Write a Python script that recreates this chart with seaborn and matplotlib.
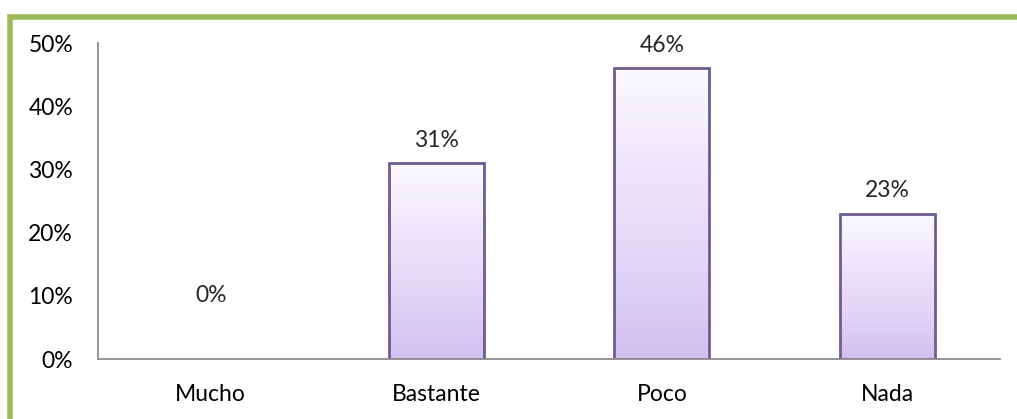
import numpy as np
import pandas as pd
import matplotlib
matplotlib.use('Agg')
import matplotlib.pyplot as plt
import seaborn as sns
from matplotlib.colors import LinearSegmentedColormap
from matplotlib.patches import Rectangle

# Datos
categorias = ['Mucho', 'Bastante', 'Poco', 'Nada']
porcentajes = [0, 31, 46, 23]
etiquetas_y = ['0%', '10%', '20%', '30%', '40%', '50%']

df = pd.DataFrame({'Respuesta': categorias, 'Porcentaje': porcentajes})

sns.set_style('white')
plt.rcParams['font.family'] = ['Lato', 'DejaVu Sans']

fig = plt.figure(figsize=(10.17, 4.19), dpi=100)
ax = fig.add_axes([0.0964, 0.143, 0.887, 0.754])

sns.barplot(data=df, x='Respuesta', y='Porcentaje', ax=ax, width=0.42,
            color='#E2D8F6', edgecolor='#6E5C90', linewidth=2.0)

# degradado dentro de cada barra
cmap = LinearSegmentedColormap.from_list('lav', ['#FCFAFF', '#EEE6FB', '#E2D6F7', '#D0C1EF'])
grad = np.linspace(0, 1, 256).reshape(-1, 1)
for p in ax.patches:
    x0, w, h = p.get_x(), p.get_width(), p.get_height()
    if h <= 0:
        p.set_visible(False)
        continue
    im = ax.imshow(grad, cmap=cmap, aspect='auto', extent=[x0, x0 + w, 0, h],
                   origin='upper', zorder=p.get_zorder() - 0.1)
    im.set_clip_path(p)
    p.set_facecolor('none')

ax.set_xlim(-0.5, 3.5)
ax.set_ylim(0, 50)
ax.set_yticks(range(0, 51, 10))
ax.set_yticklabels(etiquetas_y)
ax.set_xlabel('')
ax.set_ylabel('')
ax.tick_params(axis='both', length=0, labelsize=16.5, colors='#000000')
ax.tick_params(axis='y', pad=18)
ax.tick_params(axis='x', pad=18)

for s in ['top', 'right']:
    ax.spines[s].set_visible(False)
for s in ['left', 'bottom']:
    ax.spines[s].set_color('#8C8C8C')
    ax.spines[s].set_linewidth(1.3)

# etiquetas de datos
for i, v in enumerate(porcentajes):
    off = 9 if v > 0 else 38
    ax.annotate(f'{v}%', (i, v), xytext=(0, off), textcoords='offset points',
                ha='center', va='bottom', fontsize=16.5)

# borde verde
fig.patches.append(Rectangle((0.0095, -0.1), 1.2, 1.0589, transform=fig.transFigure,
                             fill=False, edgecolor='#9BBB59', linewidth=4))

fig.savefig('out.png', dpi=100)
